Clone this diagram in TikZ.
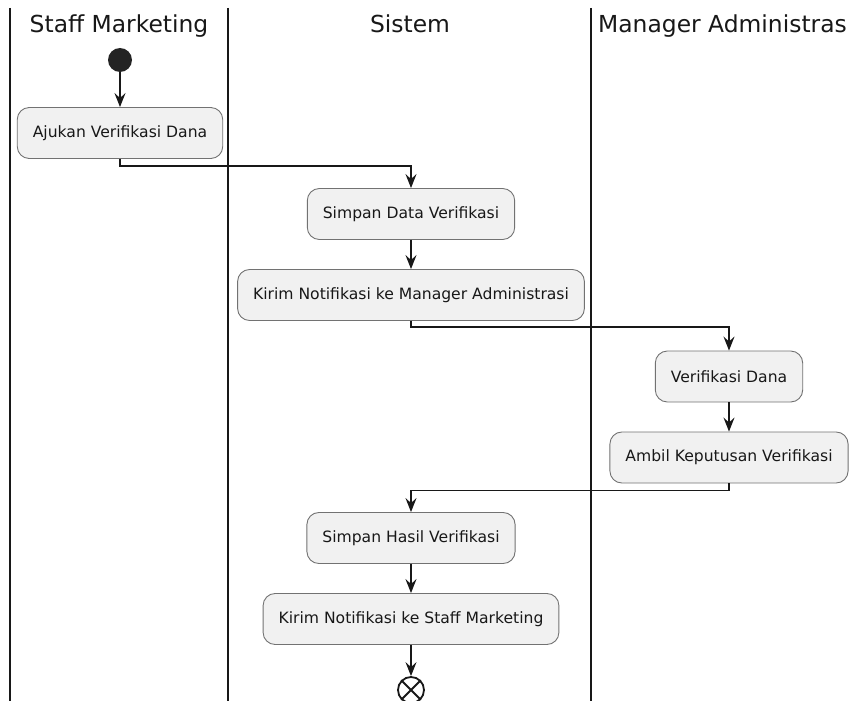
\documentclass[tikz,border=0pt]{standalone}
\usepackage{fontspec}
\setmainfont{DejaVu Sans}
\usetikzlibrary{arrows.meta,calc}
\definecolor{ink}{HTML}{181818}
\definecolor{actfill}{HTML}{F1F1F1}
\definecolor{actborder}{HTML}{727272}
\tikzset{
  activity/.style={draw=actborder, line width=0.9pt, fill=actfill,
    rounded corners=12pt, minimum height=51pt, inner xsep=15.5pt,
    font=\fontsize{15.6}{18}\selectfont, text=ink},
  flow/.style={draw=ink, line width=1.3pt,
    -{Stealth[length=14pt,width=11pt,inset=5pt]}},
  lane/.style={draw=ink, line width=2pt},
  lanetitle/.style={font=\fontsize{23.4}{28}\selectfont, text=ink, inner sep=0pt},
  startnode/.style={circle, fill=ink!95, minimum size=24pt, inner sep=0pt},
  endnode/.style={circle, draw=ink, line width=1.8pt, minimum size=26pt, inner sep=0pt}
}
\begin{document}
\begin{tikzpicture}[x=1pt,y=-1pt]
\useasboundingbox (0,0) rectangle (851,701);

% swimlane separators
\coordinate (s1t) at (10,8);  \coordinate (s1b) at (10,701);
\coordinate (s2t) at (228,8); \coordinate (s2b) at (228,701);
\coordinate (s3t) at (591,8); \coordinate (s3b) at (591,701);
\draw[lane] (s1t) -- (s1b);
\draw[lane] (s2t) -- (s2b);
\draw[lane] (s3t) -- (s3b);

% swimlane titles
\node[lanetitle, anchor=base] (t1) at (119,33) {Staff Marketing};
\node[lanetitle, anchor=base] (t2) at (410,33) {Sistem};
\node[lanetitle, anchor=base west] (t3) at (598,33) {Manager Administras};

% start / end
\node[startnode] (start) at (120,60) {};
\node[endnode] (end) at (411,690) {};
\draw[ink, line width=1.8pt] (end.north west) -- (end.south east)
                             (end.north east) -- (end.south west);

% activities
\node[activity] (a1) at (120,133)    {Ajukan Verifikasi Dana};
\node[activity] (a2) at (411,214)    {Simpan Data Verifikasi};
\node[activity] (a3) at (411,295)    {Kirim Notifikasi ke Manager Administrasi};
\node[activity] (a4) at (729,376.5)  {Verifikasi Dana};
\node[activity] (a5) at (729,457.5)  {Ambil Keputusan Verifikasi};
\node[activity] (a6) at (411,538)    {Simpan Hasil Verifikasi};
\node[activity] (a7) at (411,619)    {Kirim Notifikasi ke Staff Marketing};

% control flow
\draw[flow] (start) -- (a1.north);
\draw[flow] (a1.south) -- ++(0,7) -| (a2.north);
\draw[flow] (a2) -- (a3);
\draw[flow] (a3.south) -- ++(0,6) -| (a4.north);
\draw[flow] (a4) -- (a5);
\draw[flow] (a5.south) -- ++(0,7) -| (a6.north);
\draw[flow] (a6) -- (a7);
\draw[flow] (a7.south) -- (end.north);
\end{tikzpicture}
\end{document}
